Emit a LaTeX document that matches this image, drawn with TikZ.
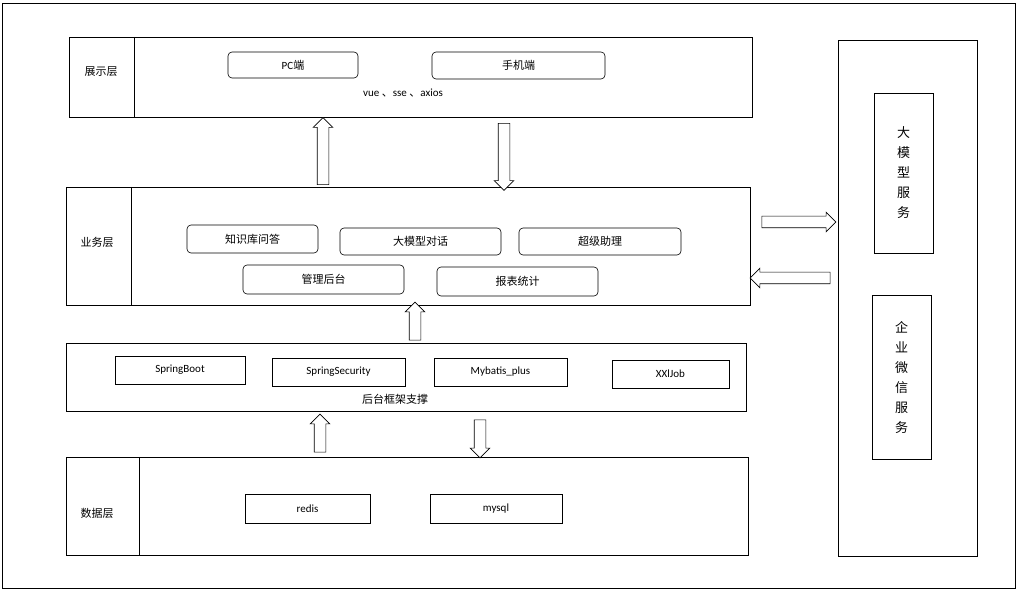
\documentclass[tikz,border=0pt]{standalone}
\usepackage{fontspec}
\setmainfont{Carlito}
\newfontfamily\cjk{Noto Sans CJK SC}
\usetikzlibrary{shapes.arrows}
\begin{document}
\begin{tikzpicture}[x=1pt,y=-1pt,font=\fontsize{11}{13}\selectfont,
 box/.style={draw,line width=0.8pt},
 rbox/.style={draw,rounded corners=4pt,line width=0.6pt},
 sbox/.style={draw,line width=0.8pt},
 harr/.style={single arrow,draw,line width=0.6pt,fill=white,single arrow head extend=4pt,single arrow tip angle=90,inner sep=0pt,single arrow head indent=0pt}]
\useasboundingbox (0,0) rectangle (1018,593);
\draw[line width=0.6pt] (2,3) rectangle (1015,588);
% display
\draw[box] (69,37) rectangle (752,117); \draw[box] (134,37)--(134,117);
\node (l1) at (101,72) {\cjk 展示层};
\draw[rbox] (228,52) rectangle node (pc) {PC\cjk 端} (358,78);
\draw[rbox] (432,52) rectangle node (mob) {\cjk 手机端} (605,79);
\node (tech) at (403,93) {vue \cjk、\rm sse \cjk、\rm axios};
% business
\draw[box] (66,187) rectangle (750,305); \draw[box] (131,187)--(131,305);
\node (l2) at (97,242) {\cjk 业务层};
\draw[rbox] (187,225) rectangle node (kb) {\cjk 知识库问答} (318,253);
\draw[rbox] (340,228) rectangle node (dlg) {\cjk 大模型对话} (501,255);
\draw[rbox] (519,228) rectangle node (sup) {\cjk 超级助理} (681,255);
\draw[rbox] (243,265) rectangle node (adm) {\cjk 管理后台} (404,294);
\draw[rbox] (437,267) rectangle node (rep) {\cjk 报表统计} (598,296);
% framework
\draw[box] (66,343) rectangle (746,411);
\draw[sbox] (115,356) rectangle node (sb) {SpringBoot} (245,384);
\draw[sbox] (272,358) rectangle node (ss) {SpringSecurity} (405,386);
\draw[sbox] (434,358) rectangle node (mp) {Mybatis\_plus} (567,386);
\draw[sbox] (612,360) rectangle node (xj) {XXlJob} (729,388);
\node (l3) at (395,399) {\cjk 后台框架支撑};
% data
\draw[box] (66,457) rectangle (748,555); \draw[box] (139,457)--(139,555);
\node (l4) at (97,513) {\cjk 数据层};
\draw[sbox] (245,494) rectangle node (rd) {redis} (370,523);
\draw[sbox] (430,494) rectangle node (my) {mysql} (562,523);
% right
\draw[box] (838,40) rectangle (977,556);
\draw[sbox] (874,93) rectangle node (llm) [align=center,font=\cjk\fontsize{13}{20}\selectfont] {大\\模\\型\\服\\务} (933,253);
\draw[sbox] (872,295) rectangle node (wx) [align=center,font=\cjk\fontsize{13}{20}\selectfont] {企\\业\\微\\信\\服\\务} (931,459);
% arrows
\node[harr,minimum height=67pt,rotate=90] (a1) at (323,154) {\rule{0pt}{11pt}};
\node[harr,minimum height=67pt,rotate=-90] (a2) at (504,154) {\rule{0pt}{11pt}};
\node[harr,minimum height=38pt,rotate=90] (a3) at (415,324) {\rule{0pt}{11pt}};
\node[harr,minimum height=38pt,rotate=90] (a4) at (320,436) {\rule{0pt}{11pt}};
\node[harr,minimum height=38pt,rotate=-90] (a5) at (480,436) {\rule{0pt}{11pt}};
\node[harr,minimum height=74pt] (a6) at (796,222) {\rule{0pt}{11pt}};
\node[harr,minimum height=80pt,rotate=180] (a7) at (793,278) {\rule{0pt}{11pt}};
\end{tikzpicture}
\end{document}
